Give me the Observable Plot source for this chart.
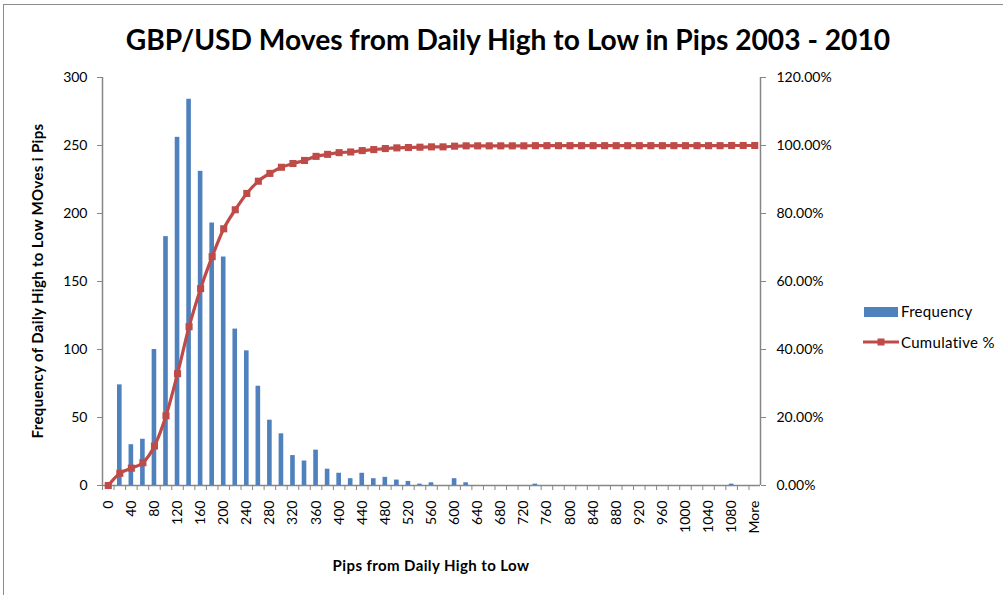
<!DOCTYPE html>
<html>
<head>
<meta charset="utf-8">
<script src="https://cdn.jsdelivr.net/npm/d3@7"></script>
<script src="https://cdn.jsdelivr.net/npm/@observablehq/plot@0.6"></script>
<style>
  html, body { margin: 0; padding: 0; background: #fff; }
  #wrap { position: relative; width: 1003px; height: 595px; overflow: hidden; font-family: Lato, "Open Sans", sans-serif; }
  #border { position: absolute; left: 3px; top: 4px; right: -10px; bottom: -10px; border-top: 1.5px solid #8c8c8c; border-left: 1.5px solid #8c8c8c; }
  #title { position: absolute; left: 0; width: 1016px; top: 22px; text-align: center; font-weight: bold; font-size: 28.2px; color: #000; white-space: nowrap; }
  #ytitle { position: absolute; left: 37px; top: 281px; transform: translate(-50%, -50%) rotate(-90deg); font-weight: bold; font-size: 15px; letter-spacing: 0.35px; white-space: nowrap; }
  #xtitle { position: absolute; left: 431px; top: 565px; transform: translate(-50%, -50%); font-weight: bold; font-size: 15px; letter-spacing: 0.4px; white-space: nowrap; }
  #chart { position: absolute; left: 0; top: 60px; }
  .leg { position: absolute; font-size: 15px; letter-spacing: 0.3px; white-space: nowrap; }
</style>
</head>
<body>
<div id="wrap">
  <div id="border"></div>
  <div id="title">GBP/USD Moves from Daily High to Low in Pips 2003 - 2010</div>
  <div id="ytitle">Frequency of Daily High to Low MOves i Pips</div>
  <div id="xtitle">Pips from Daily High to Low</div>
  <div id="chart"></div>
  <div id="legend"></div>
</div>
<script>
const categories = ["0","20","40","60","80","100","120","140","160","180","200","220","240","260","280","300","320","340","360","380","400","420","440","460","480","500","520","540","560","580","600","620","640","660","680","700","720","740","760","780","800","820","840","860","880","900","920","940","960","980","1000","1020","1040","1060","1080","1100","More"];
const frequency = [0,74,30,34,100,183,256,284,231,193,168,115,99,73,48,38,22,18,26,12,9,5,9,5,6,4,3,1,2,0,5,2,0,0,0,0,0,1,0,0,0,0,0,0,0,0,0,0,0,0,0,0,0,0,1,0,0];
const cumulativePct = [0,3.6,5.1,6.7,11.6,20.5,32.9,46.7,57.9,67.3,75.5,81.1,85.9,89.5,91.8,93.6,94.7,95.6,96.8,97.4,97.9,98.1,98.5,98.8,99.1,99.3,99.4,99.5,99.6,99.6,99.8,99.9,99.9,99.9,99.9,99.9,99.9,99.95,99.95,99.95,99.95,99.95,99.95,99.95,99.95,99.95,99.95,99.95,99.95,99.95,99.95,99.95,99.95,99.95,100,100,100];
const xTickLabels = ["0","40","80","120","160","200","240","280","320","360","400","440","480","520","560","600","640","680","720","760","800","840","880","920","960","1000","1040","1080","More"];
const leftTicks = [0,50,100,150,200,250,300];
const rightTickLabels = ["0.00%","20.00%","40.00%","60.00%","80.00%","100.00%","120.00%"];
const leftMax = 300, rightMaxPct = 120;

const data = categories.map((c, i) => ({cat: c, freq: frequency[i], cum: cumulativePct[i]}));

const W = 1003, H = 530, mL = 102, mR = 243, mT = 17, mB = 105;
const step = (W - mL - mR) / categories.length;
const axisColor = "#868686";
const blue = "#4F81BD", red = "#BE4B48";

const plot = Plot.plot({
  width: W, height: H,
  marginLeft: mL, marginRight: mR, marginTop: mT, marginBottom: mB,
  style: {fontFamily: "Lato, 'Open Sans', sans-serif", fontSize: "14px", color: "#000", background: "transparent"},
  x: {type: "band", domain: categories, paddingInner: 0.6, paddingOuter: 0.3, label: null},
  y: {domain: [0, leftMax], label: null},
  marks: [
    Plot.ruleY([0], {stroke: axisColor, strokeWidth: 1.5}),
    Plot.ruleX([categories[0]], {dx: -step / 2, stroke: axisColor, strokeWidth: 1.5}),
    Plot.ruleX([categories[categories.length - 1]], {dx: step / 2, stroke: axisColor, strokeWidth: 1.5}),
    Plot.axisX({ticks: categories, tickSize: 5, tickFormat: () => "", dx: -step / 2, stroke: axisColor, label: null}),
    Plot.axisX({ticks: xTickLabels, tickSize: 0, tickPadding: 15, tickRotate: -90, label: null, fill: "#000", fontSize: 14}),
    Plot.axisY({ticks: leftTicks, anchor: "left", tickSize: 5, tickPadding: 10, stroke: axisColor, fill: "#000", label: null, fontSize: 14}),
    Plot.axisY({ticks: leftTicks, anchor: "right", tickSize: 5, tickPadding: 11, stroke: axisColor, fill: "#000", label: null, fontSize: 14,
      tickFormat: d => rightTickLabels[leftTicks.indexOf(d)]}),
    Plot.barY(data, {x: "cat", y: "freq", fill: blue}),
    Plot.line(data, {x: "cat", y: d => d.cum * leftMax / rightMaxPct, stroke: red, strokeWidth: 3.2, curve: "monotone-x"}),
    Plot.dot(data, {x: "cat", y: d => d.cum * leftMax / rightMaxPct, symbol: "square", r: 4, fill: red, stroke: "none"})
  ]
});
document.getElementById("chart").appendChild(plot);

// Legend
const legend = document.getElementById("legend");
legend.innerHTML = `
  <div class="leg" style="left:864px;top:307px;width:34px;height:10px;background:${blue}"></div>
  <div class="leg" style="left:901px;top:302px;">Frequency</div>
  <svg class="leg" style="left:862px;top:336px;" width="38" height="12">
    <line x1="1" y1="6" x2="37" y2="6" stroke="${red}" stroke-width="3.2"/>
    <rect x="15.5" y="2.5" width="7" height="7" fill="${red}"/>
  </svg>
  <div class="leg" style="left:901px;top:333px;">Cumulative %</div>`;
</script>
</body>
</html>
